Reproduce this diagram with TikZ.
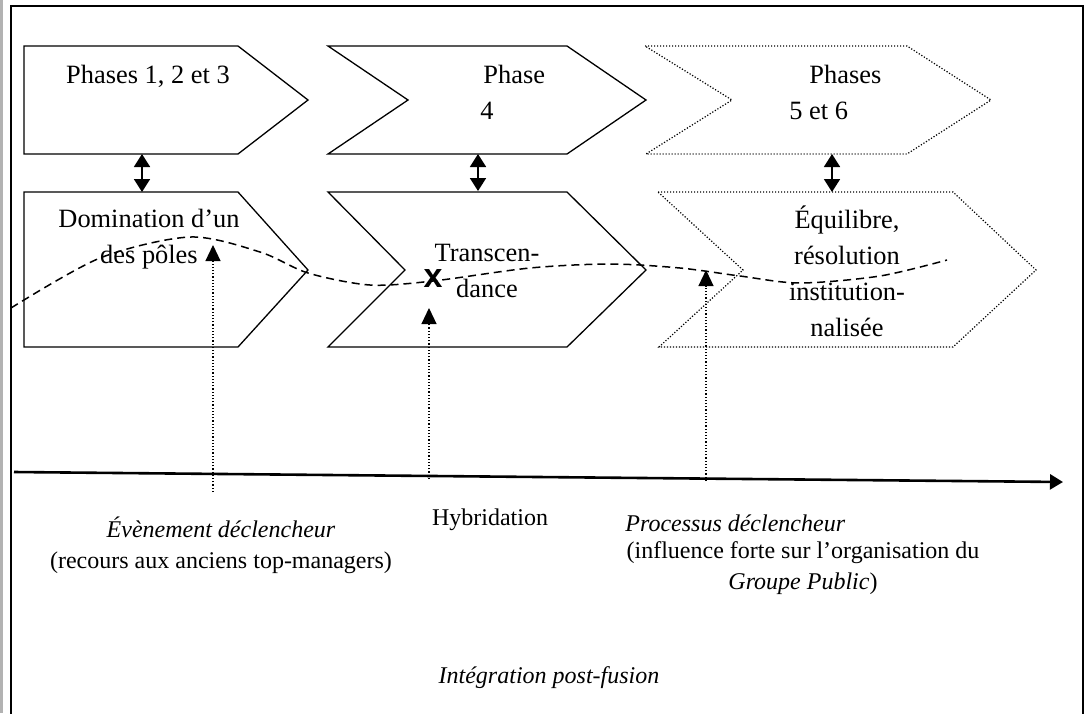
\documentclass[tikz,border=0pt]{standalone}
\usepackage{fontspec}
\setmainfont{Liberation Serif}
\newfontfamily\marksans{Liberation Sans}
\usetikzlibrary{arrows.meta}

\tikzset{
  phasebox/.style={draw, line width=0.65pt, line join=miter},
  phasedotted/.style={draw, line width=0.6pt, dash pattern=on 0.6pt off 0.9pt},
  linkarrow/.style={line width=0.9pt, {Triangle[length=6.5pt,width=8pt]}-{Triangle[length=6.5pt,width=8pt]}},
  trigger/.style={line width=0.6pt, dash pattern=on 0.6pt off 1pt, -{Triangle[length=8pt,width=7.5pt]}},
  wave/.style={line width=0.75pt, dash pattern=on 4pt off 2.5pt},
  timeaxis/.style={line width=1.3pt, -{Triangle[length=6.5pt,width=7.5pt]}},
  boxtext/.style={font=\fontsize{13.2}{18}\selectfont, align=center, inner sep=0pt},
  axistext/.style={font=\fontsize{12}{15.5}\selectfont, align=center, inner sep=0pt},
}

\begin{document}
\begin{tikzpicture}[x=0.5pt,y=-0.5pt]
\useasboundingbox (0,0) rectangle (1086,713);
% frame
\fill[gray!60] (0,0) rectangle (2.5,713);
\draw[line width=1pt] (10.5,720) -- (10.5,6) -- (1083,6) -- (1083,720);

% top row
\draw[phasebox] (24,46) -- (238,46) -- (308,100) -- (238,154) -- (24,154) -- cycle;
\draw[phasebox] (328,46) -- (567,46) -- (646,100) -- (567,154) -- (328,154) -- (408,100) -- cycle;
\draw[phasedotted] (645,46) -- (907,46) -- (991,100) -- (907,154) -- (646,154) -- (732,100) -- cycle;

% bottom row
\draw[phasebox] (24,192) -- (238,192) -- (308,270) -- (238,347) -- (24,347) -- cycle;
\draw[phasebox] (328,192) -- (567,192) -- (646,270) -- (567,347) -- (328,347) -- (405,270) -- cycle;
\draw[phasedotted] (658,192) -- (953,192) -- (1036,270) -- (953,347) -- (659,347) -- (743,270) -- cycle;

% texts in the shapes
\node[boxtext] (ph123) at (148,76) {Phases 1, 2 et 3};
\node[boxtext, align=left, anchor=west] (ph4) at (480,92) {\hspace*{1.5pt}Phase\\4};
\node[boxtext, align=left, anchor=west] (ph56) at (789,92) {\hspace*{10pt}Phases\\5 et 6};
\node[boxtext] (dom) at (149,239) {Domination d’un\\des pôles};
\node[boxtext] (trans) at (487,271) {Transcen-\\dance};
\node[boxtext] (equi) at (847,271) {Équilibre,\\résolution\\institution-\\nalisée};

% links between the rows
\coordinate (top1) at (142,154);
\coordinate (bot1) at (142,192);
\coordinate (top2) at (478,154);
\coordinate (bot2) at (478,191);
\coordinate (top3) at (832,154);
\coordinate (bot3) at (832,192);
\draw[linkarrow] (top1) -- (bot1);
\draw[linkarrow] (top2) -- (bot2);
\draw[linkarrow] (top3) -- (bot3);

% wave
\draw[wave] plot[smooth] coordinates {(11,308) (100,258) (190,237) (260,252) (308,273) (370,285) (433,281) (530,268) (610,264) (680,268) (740,276) (800,283) (880,276) (947,260)};
\node[font=\marksans\bfseries\fontsize{17}{17}\selectfont, inner sep=0pt] (cross) at (433,279) {x};

% time axis
\coordinate (axstart) at (14,472);
\coordinate (axend) at (1063,482);
\draw[timeaxis] (axstart) -- (axend);

% triggers
\coordinate (foot1) at (213,492);
\coordinate (head1) at (213,245);
\coordinate (foot2) at (429,479);
\coordinate (head2) at (429,308);
\coordinate (foot3) at (706,481);
\coordinate (head3) at (706,270);
\draw[trigger] (foot1) -- (head1);
\draw[trigger] (foot2) -- (head2);
\draw[trigger] (foot3) -- (head3);

% texts under the axis
\node[axistext] (event) at (221,545) {\textit{Évènement déclencheur}\\(recours aux anciens top-managers)};
\node[axistext] (hybrid) at (490,520) {Hybridation};
\node[axistext, anchor=west] (proc) at (625,523) {\textit{Processus déclencheur}};
\node[axistext] (procnote) at (803,568) {(influence forte sur l’organisation du\\\textit{Groupe Public})};
\node[axistext] (integ) at (549,678) {\textit{Intégration post-fusion}};
\end{tikzpicture}
\end{document}
